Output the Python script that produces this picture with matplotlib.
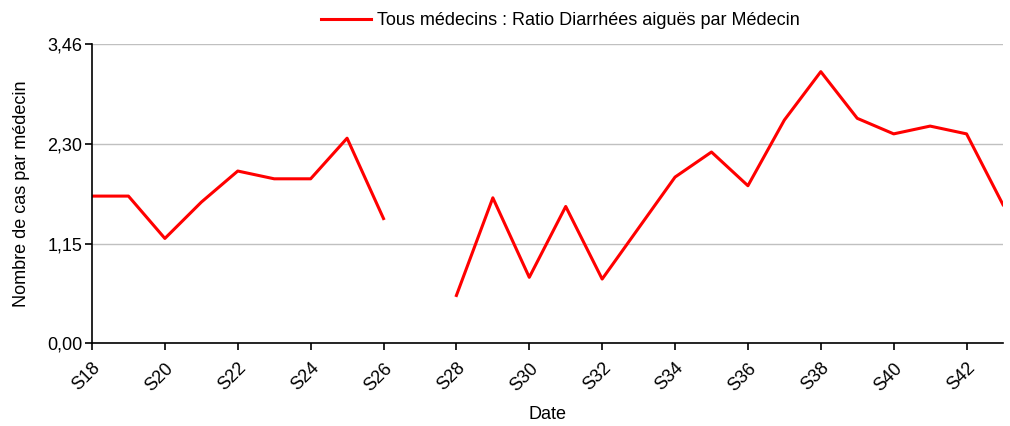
import numpy as np
import matplotlib
matplotlib.use('Agg')
import matplotlib.pyplot as plt
from matplotlib.ticker import FuncFormatter

plt.rcParams['font.family'] = ['Liberation Sans', 'DejaVu Sans']

weeks: list[str] = ['S' + str(w) for w in range(18, 44)]
ratio: list[float] = [
    1.70, 1.70, 1.21, 1.63, 1.99, 1.90, 1.90, 2.37, 1.44, np.nan,
    0.55, 1.68, 0.76, 1.58, 0.74, 1.33, 1.92, 2.21, 1.82, 2.58,
    3.14, 2.60, 2.42, 2.51, 2.42, 1.60,
]
yTicks: list[float] = [0.00, 1.15, 2.30, 3.46]
seriesLabel: str = 'Tous médecins : Ratio Diarrhées aiguës par Médecin'


def main() -> None:
    fig = plt.figure(figsize=(10.1, 4.26), dpi=100)
    ax = fig.add_axes([92 / 1010, 83 / 426, 911 / 1010, 299 / 426])

    x = np.arange(len(weeks))
    line, = ax.plot(x, ratio, color='#ff0000', linewidth=2.2, label=seriesLabel)

    ax.set_xlim(0, len(weeks) - 1)
    ax.set_ylim(0, yTicks[-1])
    ax.set_yticks(yTicks)
    ax.yaxis.set_major_formatter(FuncFormatter(lambda v, p: f'{v:.2f}'.replace('.', ',')))
    ax.set_xticks(x[::2])
    ax.set_xticklabels(weeks[::2], rotation=45, ha='right', rotation_mode='anchor')

    ax.grid(axis='y', color='#c0c0c0', linewidth=1.0)
    ax.set_axisbelow(True)
    for side in ['top', 'right']:
        ax.spines[side].set_visible(False)
    ax.spines['left'].set_linewidth(1.2)
    ax.spines['bottom'].set_linewidth(1.2)
    ax.tick_params(axis='both', direction='out', length=5, width=1.2, labelsize=13)
    ax.tick_params(axis='x', pad=7)
    ax.tick_params(axis='y', pad=2)

    ax.set_xlabel('Date', fontsize=13, labelpad=8)
    ax.set_ylabel('Nombre de cas par médecin', fontsize=13, labelpad=12)

    fig.legend(handles=[line], loc='upper center', bbox_to_anchor=(560 / 1010, 1.01),
               frameon=False, fontsize=13, handlelength=2.8, handletextpad=0.3)

    fig.savefig('out.png', dpi=100)


if __name__ == '__main__':
    main()
